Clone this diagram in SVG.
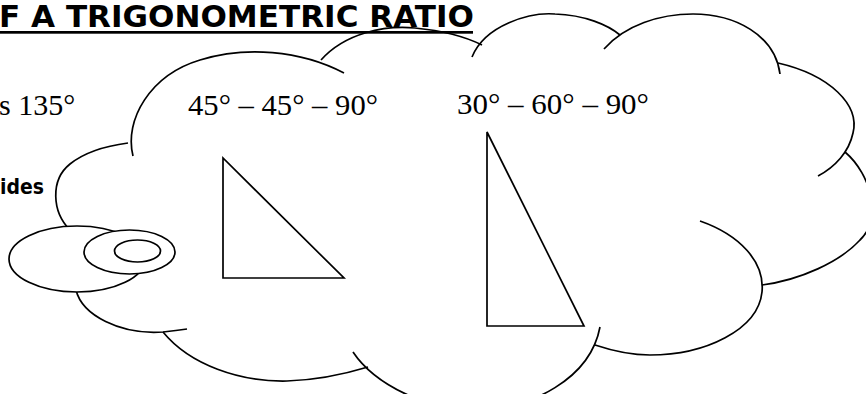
<svg xmlns="http://www.w3.org/2000/svg" width="866" height="394" viewBox="0 0 866 394">
  <style>
    .ln { fill: none; stroke: #000; stroke-width: 1.7; stroke-linecap: butt; }
    .bub { fill: #fff; stroke: #000; stroke-width: 1.7; }
    .comic { font-family: "Comic Sans MS", "DejaVu Sans", sans-serif; font-weight: bold; fill: #000; }
    .times { font-family: "Liberation Serif", "Times New Roman", serif; font-size: 30px; fill: #000; }
  </style>
  <rect width="866" height="394" fill="#fff"/>

  <g id="title">
    <text class="comic" x="-1" y="27" font-size="30" textLength="475" lengthAdjust="spacingAndGlyphs">F A TRIGONOMETRIC RATIO</text>
    <rect x="0" y="31" width="473" height="2.7" fill="#000"/>
  </g>

  <g id="left-text">
    <text class="times" x="-1" y="115">s 135°</text>
    <text class="comic" x="0" y="194" font-size="22" textLength="44" lengthAdjust="spacingAndGlyphs">ides</text>
  </g>

  <g id="cloud">
    <path class="ln" d="M70,230 C52,212 50,180 70,164 C85,152 105,146 128,143"/>
    <path class="ln" d="M133,156 C124,120 150,75 200,60 C245,46 300,50 344,73"/>
    <path class="ln" d="M321,60 C345,33 385,25 415,28 C445,31 468,38 482,45"/>
    <path class="ln" d="M472,57 C485,25 530,12 555,14 C585,15 608,25 620,35"/>
    <path class="ln" d="M604,49 C625,25 660,14 693,14 C735,14 775,35 780,74"/>
    <path class="ln" d="M778,63 C830,75 860,105 853,133 C849,152 835,167 818,176"/>
    <path class="ln" d="M845,152 C872,175 882,220 860,240 C840,262 800,280 762,285"/>
    <path class="ln" d="M700,221 C740,235 765,262 762,292 C758,330 705,355 650,355 C630,355 610,350 595,345"/>
    <path class="ln" d="M353,352 C375,385 430,412 480,410 C530,408 590,380 600,327"/>
    <path class="ln" d="M163,332 C190,365 240,382 287,381 C320,380 345,374 368,367"/>
    <path class="ln" d="M76,290 C82,315 120,335 163,332 C172,331 180,330 187,329"/>
  </g>

  <g id="bubbles">
    <ellipse id="bubble-large" class="bub" cx="77" cy="259" rx="68" ry="33"/>
    <ellipse id="bubble-medium" class="bub" cx="129.5" cy="252" rx="45.5" ry="22"/>
    <ellipse id="bubble-small" class="bub" cx="137.5" cy="251" rx="23" ry="11"/>
  </g>

  <g id="triangle-45-45-90">
    <text class="times" x="188" y="115" textLength="190" lengthAdjust="spacingAndGlyphs">45° – 45° – 90°</text>
    <polygon class="ln" points="223,158 223,278 344,278"/>
  </g>

  <g id="triangle-30-60-90">
    <text class="times" x="457" y="114" textLength="192" lengthAdjust="spacingAndGlyphs">30° – 60° – 90°</text>
    <polygon class="ln" points="487,132 487,326 584,326"/>
  </g>
</svg>
